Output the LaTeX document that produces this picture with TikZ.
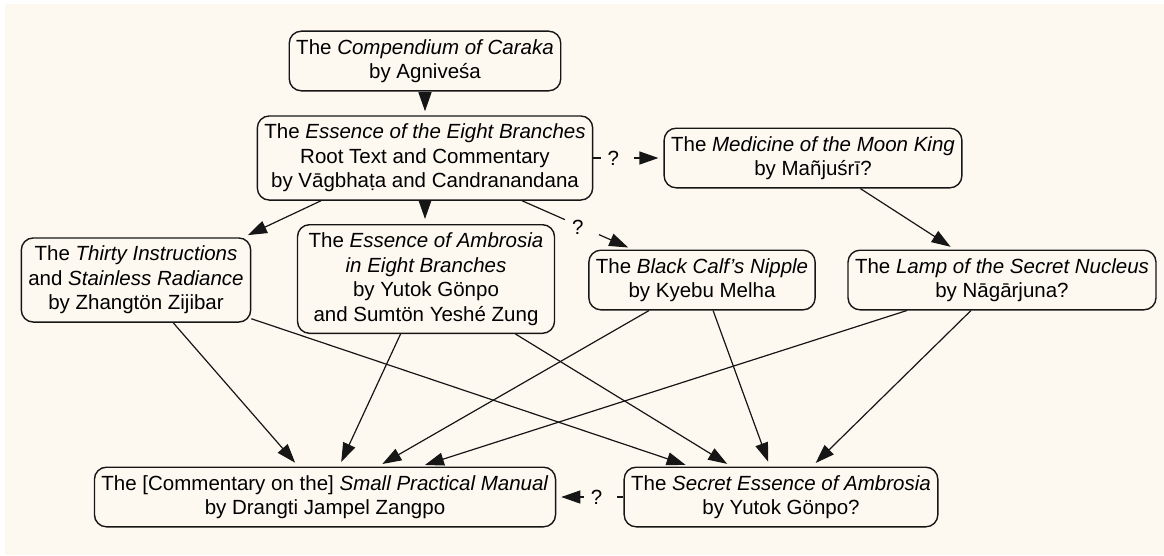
\documentclass[tikz,border=0pt]{standalone}
\usepackage{fontspec}
\setmainfont{Liberation Sans}
\usetikzlibrary{arrows.meta}
\definecolor{paper}{RGB}{253,249,241}
\definecolor{ink}{RGB}{22,22,22}

\begin{document}
\begin{tikzpicture}[x=1pt,y=-1pt,
  work/.style={draw=ink, line width=1.4pt, rounded corners=12pt, fill=paper,
    align=center, inner xsep=7pt, inner ysep=8pt,
    font=\fontsize{20.5}{24.5}\selectfont},
  link/.style={draw=ink, line width=1.2pt,
    -{Triangle[length=19pt,width=13pt]}, shorten >=5pt},
  query/.style={fill=paper, inner xsep=0pt, inner ysep=1pt,
    font=\fontsize{20.5}{24.5}\selectfont}
]
\useasboundingbox (0,0) rectangle (1164,555);
\fill[white] (0,0) rectangle (1164,555);
\fill[paper] (5,4) rectangle (1164,555);

% the texts
\node[work] (comp)   at (425,61)  {The \textit{Compendium of Caraka}\\by Agniveśa};
\node[work] (eight)  at (425,158) {The \textit{Essence of the Eight Branches}\\Root Text and Commentary\\by Vāgbhaṭa and Candranandana};
\node[work] (moon)   at (813,158) {The \textit{Medicine of the Moon King}\\by Mañjuśrī?};
\node[work] (thirty) at (136,280) {The \textit{Thirty Instructions}\\and \textit{Stainless Radiance}\\by Zhangtön Zijibar};
\node[work, minimum width=257pt] (ambr) at (426,279) {The \textit{Essence of Ambrosia}\\\textit{in Eight Branches}\\by Yutok Gönpo\\and Sumtön Yeshé Zung};
\node[work] (calf)   at (702,280) {The \textit{Black Calf’s Nipple}\\by Kyebu Melha};
\node[work] (lamp)   at (1002,280) {The \textit{Lamp of the Secret Nucleus}\\by Nāgārjuna?};
\node[work] (small)  at (325,497) {The [Commentary on the] \textit{Small Practical Manual}\\by Drangti Jampel Zangpo};
\node[work] (secret) at (781,497) {The \textit{Secret Essence of Ambrosia}\\by Yutok Gönpo?};

% lines of transmission
\draw[link, shorten >=4pt] (comp) -- (eight);
\draw[link] (eight) -- node[query,pos=0.34]{\hspace*{7pt}?\hspace*{15pt}} (moon);
\draw[link] ([xshift=-104pt]eight.south) -- ([xshift=-8pt]thirty.north east);
\draw[link] (eight) -- (eight |- ambr.north);
\draw[link] (eight) -- node[query,pos=0.54]{\hspace*{7pt}?\hspace*{15pt}} (calf);
\draw[link] (moon) -- (lamp);

\draw[link] (thirty) -- (small);
\draw[link] (thirty) -- (secret);
\draw[link] (ambr) -- (small);
\draw[link] (ambr) -- (secret);
\draw[link] (calf) -- (small);
\draw[link] (calf) -- (secret);
\draw[link] (lamp) -- (small);
\draw[link] (lamp) -- (secret);
\draw[link] (secret) -- node[query,pos=0.34]{\hspace*{7pt}?\hspace*{15pt}} (small);
\end{tikzpicture}
\end{document}
